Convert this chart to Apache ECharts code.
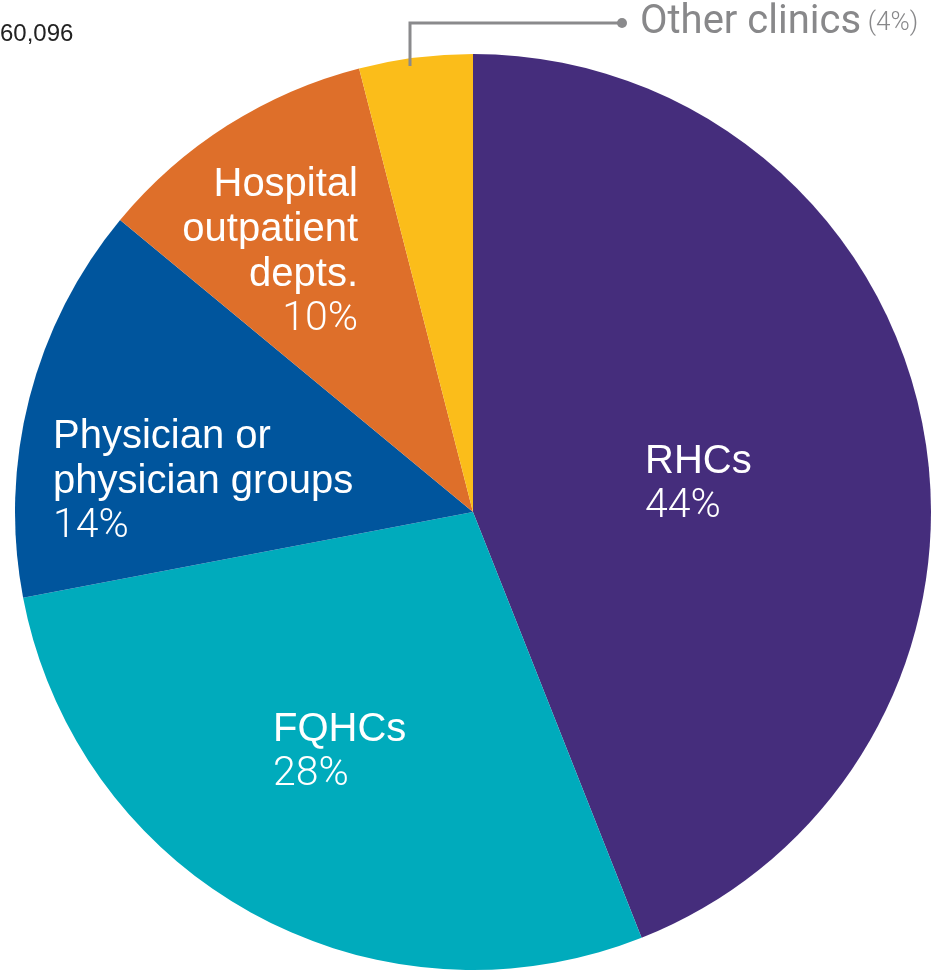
<!DOCTYPE html>
<html>
<head>
<meta charset="utf-8">
<script src="https://cdn.jsdelivr.net/npm/echarts@6/dist/echarts.min.js"></script>
<style>
html,body{margin:0;padding:0;background:#fff;}
#chart{width:931px;height:971px;}
</style>
</head>
<body>
<div id="chart"></div>
<script>
// Data
var categories = ['RHCs', 'FQHCs', 'Physician or\nphysician groups', 'Hospital\noutpatient\ndepts.', 'Other clinics'];
var shares = [44, 28, 14, 10, 4];
var totalLabel = '60,096';

// Styling / layout (not data)
var colors = ['#452D7C', '#00ABBC', '#00559D', '#DE6F2A', '#FBBD1A'];
var labelLayout = [
  {x: 645, y: 439, align: 'left'},
  {x: 273, y: 707, align: 'left'},
  {x: 53, y: 414, align: 'left'},
  {x: 358, y: 162, align: 'right'}
];

var chart = echarts.init(document.getElementById('chart'));
var lh = 45;
var fs = 40;
var fsPct = 41;
var graphics = [];
for (var i = 0; i < 4; i++) {
  var L = labelLayout[i];
  var nLines = categories[i].split('\n').length;
  graphics.push({
    type: 'text', z: 100, x: L.x, y: L.y,
    style: {text: categories[i], fill: '#fff', fontSize: fs, fontFamily: '"Liberation Sans", Arial, sans-serif', fontWeight: 400, lineHeight: lh, align: L.align, verticalAlign: 'top'}
  });
  graphics.push({
    type: 'text', z: 100, x: L.x, y: L.y + nLines * lh,
    style: {text: shares[i] + '%', fill: '#fff', fontSize: fsPct, fontFamily: 'Roboto, sans-serif', fontWeight: 300, lineHeight: lh, align: L.align, verticalAlign: 'top'}
  });
}
// Other clinics callout
graphics.push({
  type: 'polyline', z: 100, shape: {points: [[410, 66], [410, 23], [622, 23]]},
  style: {stroke: '#8a8a8c', lineWidth: 3, fill: null}
});
graphics.push({type: 'circle', z: 100, shape: {cx: 622, cy: 23, r: 5}, style: {fill: '#8a8a8c'}});
graphics.push({
  type: 'text', z: 100, x: 640, y: 23,
  style: {
    text: '{a|' + categories[4] + '}  {b|(' + shares[4] + '%)}',
    verticalAlign: 'middle',
    rich: {
      a: {fill: '#88888a', fontSize: 40, fontFamily: 'Roboto, sans-serif', fontWeight: 400},
      b: {fill: '#88888a', fontSize: 26, fontFamily: 'Roboto, sans-serif', fontWeight: 300}
    }
  }
});
graphics.push({
  type: 'text', z: 100, x: 0, y: 34,
  style: {text: totalLabel, fill: '#222', fontSize: 24, fontFamily: '"Liberation Sans", Arial, sans-serif', verticalAlign: 'middle'}
});

chart.setOption({
  animation: false,
  color: colors,
  series: [{
    type: 'pie',
    center: [473, 512],
    radius: 458,
    startAngle: 90,
    clockwise: true,
    label: {show: false},
    labelLine: {show: false},
    itemStyle: {borderWidth: 0},
    emphasis: {disabled: true},
    data: categories.map(function (c, i) { return {name: c, value: shares[i]}; })
  }],
  graphic: graphics
});
</script>
</body>
</html>
